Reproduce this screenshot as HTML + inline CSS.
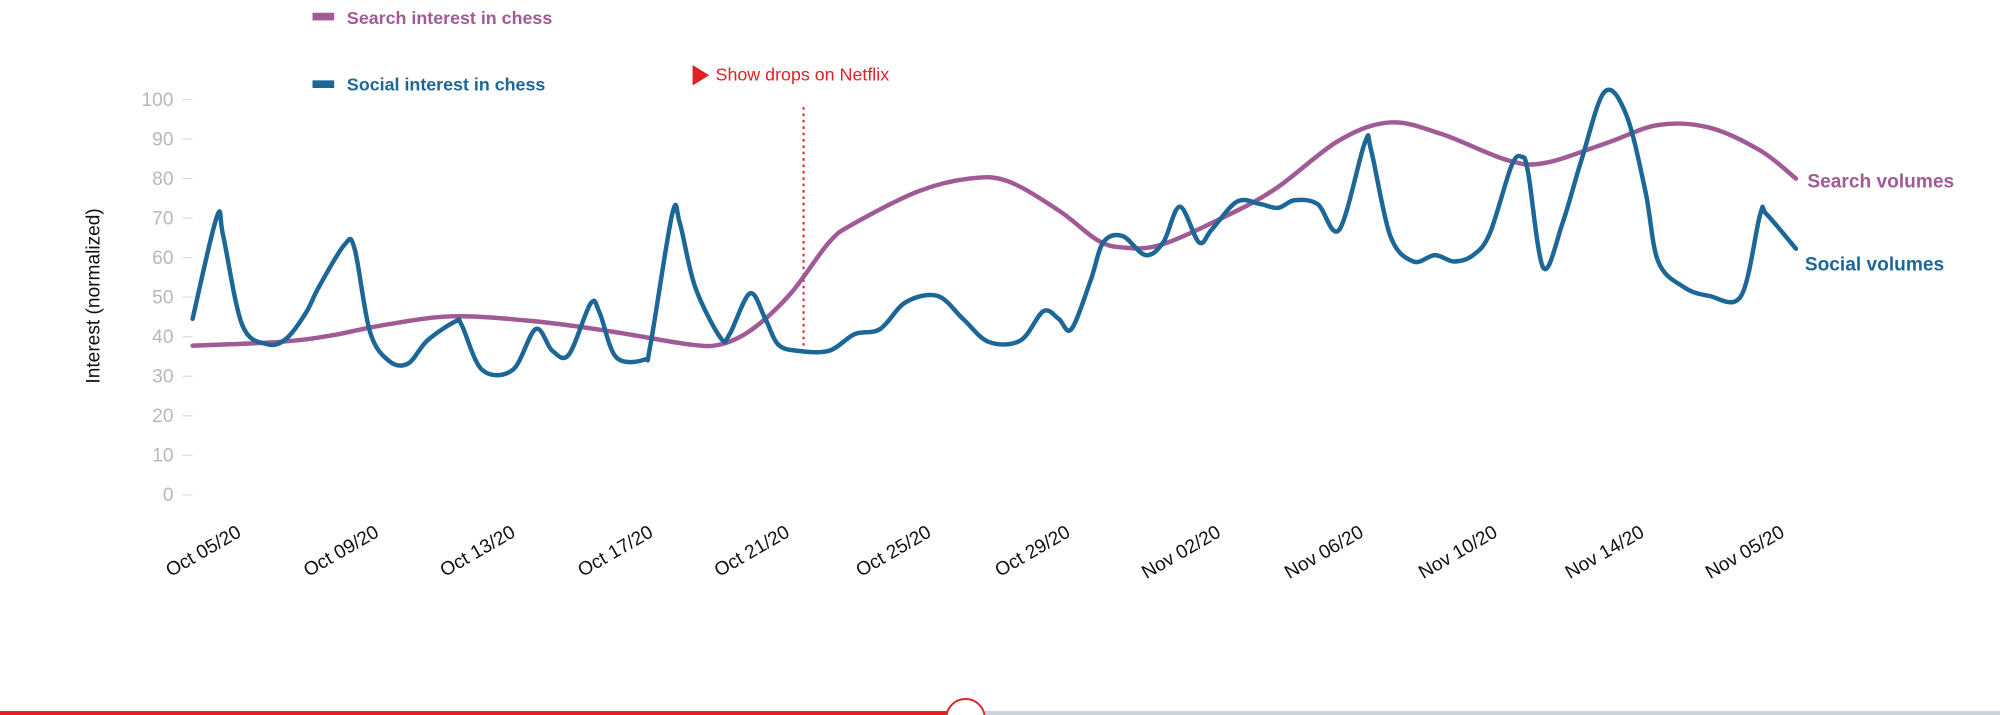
<!DOCTYPE html>
<html><head><meta charset="utf-8"><style>
html,body{margin:0;padding:0;background:#fff;width:2000px;height:715px;overflow:hidden}
svg{display:block}
text{font-family:"Liberation Sans",sans-serif}
</style></head><body>
<svg width="2000" height="715" viewBox="0 0 1568 560.6" preserveAspectRatio="none" xmlns="http://www.w3.org/2000/svg">
<rect width="1568" height="561" fill="#fff"/>
<!-- legend -->
<rect x="245" y="10" width="17" height="6" fill="#a05a96"/>
<text x="272" y="19" font-size="14" font-weight="bold" fill="#a05a96">Search interest in chess</text>
<rect x="245" y="63" width="17" height="6" fill="#1d6796"/>
<text x="272" y="71" font-size="14" font-weight="bold" fill="#1d6796">Social interest in chess</text>
<!-- netflix -->
<polygon points="543,51 556,59 543,67" fill="#e31e24"/>
<text x="561" y="63" font-size="14" fill="#e31e24">Show drops on Netflix</text>
<line x1="630" y1="84" x2="630" y2="271" stroke="#e31e24" stroke-width="1.6" stroke-dasharray="2,3"/>
<!-- y axis -->
<g font-size="15" fill="#b8b8b8" text-anchor="end" id="yt"></g>
<text transform="translate(78,232) rotate(-90)" font-size="15" fill="#111" text-anchor="middle">Interest (normalized)</text>
<!-- x labels -->
<g font-size="15" fill="#111" text-anchor="end" id="xt"></g>
<path id="search" fill="none" stroke="#a05a96" stroke-width="3.5" stroke-linecap="round"/>
<path id="social" fill="none" stroke="#1d6796" stroke-width="3.5" stroke-linecap="round" stroke-linejoin="round"/>
<text x="1417" y="147" font-size="15" font-weight="bold" fill="#a05a96">Search volumes</text>
<text x="1415" y="212" font-size="15" font-weight="bold" fill="#1d6796">Social volumes</text>
<!-- bottom bar -->
<rect x="0" y="557.5" width="760" height="4" fill="#e31e24"/>
<rect x="760" y="557.5" width="808" height="4" fill="#c8d3dc"/>
<circle cx="757" cy="563" r="15" fill="#fff" stroke="#e31e24" stroke-width="1.5"/>
</svg>
<script>
var ns="http://www.w3.org/2000/svg";
var yt=document.getElementById('yt');
for(var v=0;v<=100;v+=10){var y=388-v*3.1;
var t=document.createElementNS(ns,'text');t.setAttribute('x',136);t.setAttribute('y',y+5);t.textContent=v;yt.appendChild(t);
var l=document.createElementNS(ns,'line');l.setAttribute('x1',143);l.setAttribute('x2',151);l.setAttribute('y1',y);l.setAttribute('y2',y);l.setAttribute('stroke','#ddd');l.setAttribute('stroke-width','1');yt.appendChild(l);}
var xl=[["Oct 05/20",190],["Oct 09/20",298],["Oct 13/20",405],["Oct 17/20",513],["Oct 21/20",620],["Oct 25/20",731],["Oct 29/20",840],["Nov 02/20",958],["Nov 06/20",1070],["Nov 10/20",1175],["Nov 14/20",1290],["Nov 05/20",1400]];
var xt=document.getElementById('xt');
xl.forEach(function(a){var t=document.createElementNS(ns,'text');t.setAttribute('transform','translate('+a[1]+',420) rotate(-30)');t.textContent=a[0];xt.appendChild(t);});
function cr(p){var d="M"+p[0][0]+","+p[0][1];for(var i=0;i<p.length-1;i++){var p0=p[i-1]||p[i],p1=p[i],p2=p[i+1],p3=p[i+2]||p2;
d+=" C"+(p1[0]+(p2[0]-p0[0])/6)+","+(p1[1]+(p2[1]-p0[1])/6)+" "+(p2[0]-(p3[0]-p1[0])/6)+","+(p2[1]-(p3[1]-p1[1])/6)+" "+p2[0]+","+p2[1];}return d;}
var soc=[[151,250],[170,170],[175,185],[190,255],[210,270],[225,265],[240,245],[250,225],[270,192],[278,195],[290,260],[305,283],[320,285],[335,267],[357,252],[362,255],[378,290],[402,290],[420,258],[433,275],[446,278],[463,238],[470,245],[483,280],[505,282],[510,270],[527,168],[533,175],[545,225],[565,265],[572,262],[588,230],[600,250],[610,270],[625,275],[650,275],[670,262],[690,258],[710,237],[735,232],[755,250],[775,268],[800,267],[818,244],[830,250],[840,258],[855,220],[865,190],[880,185],[898,200],[912,190],[925,162],[940,190],[950,180],[970,158],[988,160],[1002,163],[1015,157],[1033,160],[1050,180],[1070,112],[1075,118],[1090,185],[1108,205],[1125,200],[1140,205],[1155,200],[1168,183],[1185,130],[1193,123],[1198,135],[1210,210],[1225,175],[1240,125],[1258,72],[1275,90],[1290,150],[1300,205],[1320,225],[1340,232],[1365,232],[1380,168],[1385,168],[1408,195]];
var sea=[[151,271],[220,268],[260,263],[300,255],[355,248],[420,252],[480,260],[540,270],[565,270],[590,258],[620,230],[650,190],[670,175],[720,150],[760,140],[790,142],[830,165],[860,188],[880,194],[910,192],[960,170],[1000,148],[1050,110],[1090,96],[1130,105],[1180,125],[1210,128],[1260,112],[1300,98],[1340,100],[1380,118],[1408,140]];
document.getElementById('social').setAttribute('d',cr(soc));
document.getElementById('search').setAttribute('d',cr(sea));
</script>
</body></html>
